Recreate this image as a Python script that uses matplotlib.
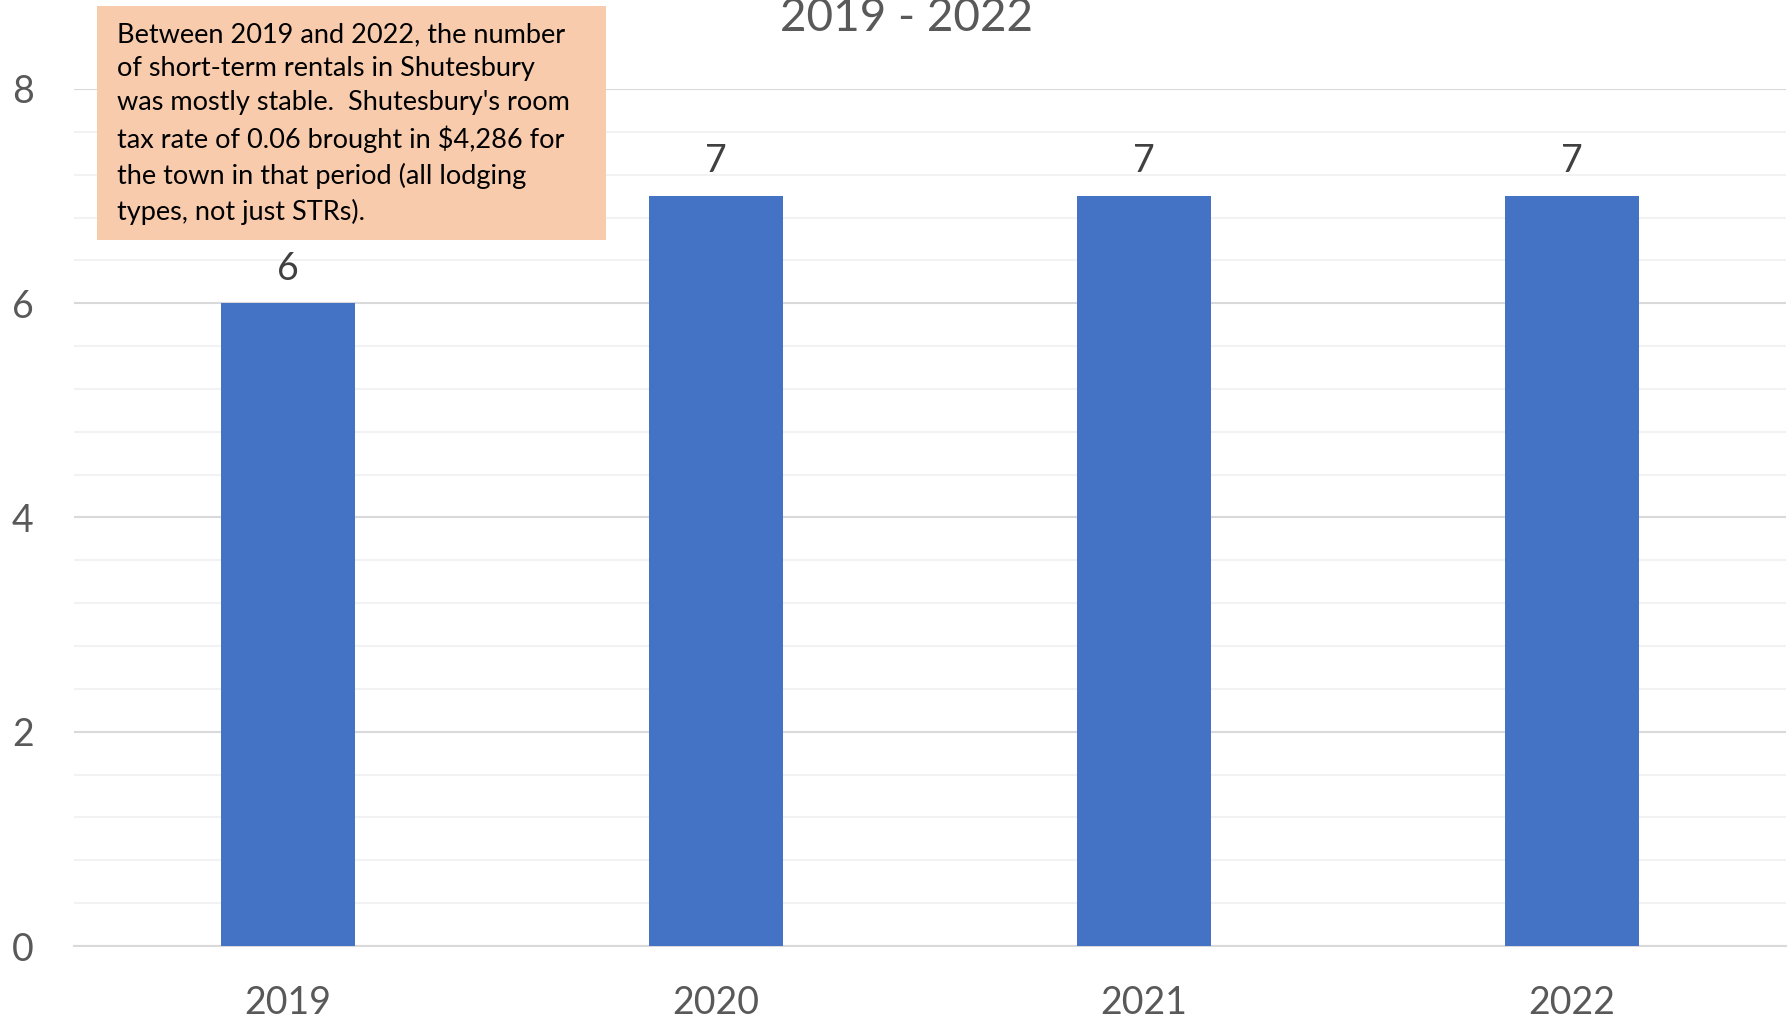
import matplotlib
matplotlib.use("Agg")
import matplotlib.pyplot as plt
from matplotlib.ticker import MultipleLocator

plt.rcParams['font.family'] = ['Lato', 'DejaVu Sans']

# rentals per year
years = ["2019", "2020", "2021", "2022"]
rentals = [6, 7, 7, 7]

title = "2019 - 2022"
note = ("Between 2019 and 2022, the number\n"
        "of short-term rentals in Shutesbury\n"
        "was mostly stable.  Shutesbury's room\n"
        "tax rate of 0.06 brought in $4,286 for\n"
        "the town in that period (all lodging\n"
        "types, not just STRs).")

fig = plt.figure(figsize=(17.92, 10.19), dpi=100)
ax = fig.add_axes([0.0413, 0.0716, 0.9554, 0.8411])

x = range(len(years))
bars = ax.bar(x, rentals, width=0.312, color="#4472C4", zorder=3)
ax.bar_label(bars, labels=[str(v) for v in rentals], padding=12,
             fontsize=27, color="#404040")

ax.set_xlim(-0.5, 3.5)
ax.set_ylim(0, 8)
ax.set_xticks(list(x))
ax.set_xticklabels(years)
ax.yaxis.set_major_locator(MultipleLocator(2))
ax.yaxis.set_minor_locator(MultipleLocator(0.4))
ax.grid(axis="y", which="major", color="#D9D9D9", linewidth=1.5, zorder=0)
ax.grid(axis="y", which="minor", color="#F2F2F2", linewidth=1.5, zorder=0)
ax.tick_params(axis="both", which="both", length=0, labelsize=27,
               labelcolor="#595959")
ax.tick_params(axis="x", pad=28)
ax.tick_params(axis="y", pad=29)
for side in ["top", "right", "left"]:
    ax.spines[side].set_visible(False)
ax.spines["bottom"].set_color("#D9D9D9")
ax.spines["bottom"].set_linewidth(1.5)

# title sits at the very top edge
fig.text(0.5056, 1.0 - 18 / 1019, title, ha="center", va="center",
         fontsize=33, color="#595959")

# note box in the upper left
fig.patches.append(plt.Rectangle((97 / 1792, 1 - 240 / 1019), 509 / 1792,
                                 234 / 1019, transform=fig.transFigure,
                                 facecolor="#F8CBAD", edgecolor="none",
                                 zorder=5))
fig.text(117 / 1792, 1 - 22 / 1019, note, ha="left", va="top",
         fontsize=19.5, color="black", linespacing=1.46, zorder=6)

fig.savefig("out.png", dpi=100)
